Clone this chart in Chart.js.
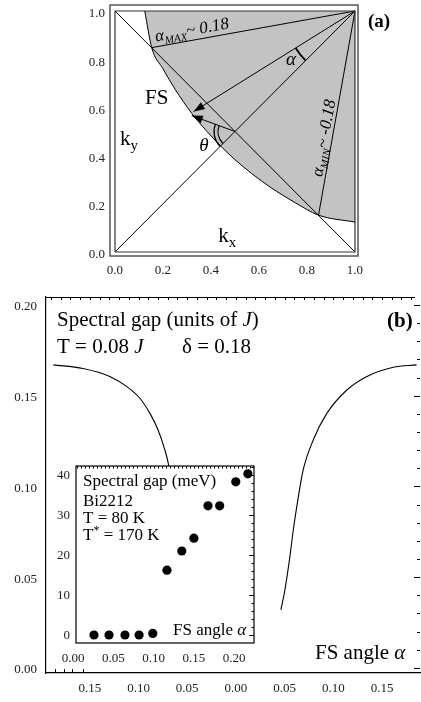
<!DOCTYPE html>
<html>
<head>
<meta charset="utf-8">
<script src="https://cdn.jsdelivr.net/npm/chart.js@4.4.0/dist/chart.umd.min.js"></script>
<style>
body { margin: 0; background: #fff; }
#wrap { position: relative; width: 421px; height: 702px; overflow: hidden; }
canvas { position: absolute; }
</style>
</head>
<body>
<div id="wrap">
  <canvas id="chartA" width="421" height="280" style="left:0;top:0"></canvas>
  <canvas id="chartB" width="421" height="422" style="left:0;top:280px"></canvas>
  <canvas id="chartC" width="260" height="215" style="left:0;top:460px"></canvas>
</div>
<script>
const SERIF = '"Liberation Serif", "DejaVu Serif", serif';

// ---- (a) quadrant of the zone ----
const fsX = [0.124, 0.153, 0.2, 0.25, 0.32, 0.38, 0.44, 0.5, 0.569, 0.65, 0.75, 0.848, 1.0];
const fsY = [1.0, 0.848, 0.76, 0.676, 0.575, 0.504, 0.44, 0.383, 0.326, 0.267, 0.205, 0.153, 0.124];
const box = [{x: 0, y: 0}, {x: 1, y: 0}, {x: 1, y: 1}, {x: 0, y: 1}, {x: 0, y: 0}];
const diag = [{x: 0, y: 0}, {x: 1, y: 1}];
const antiDiag = [{x: 0, y: 1}, {x: 1, y: 0}];
const alphaMaxLine = [{x: 1, y: 1}, {x: 0.153, y: 0.848}];
const alphaMinLine = [{x: 1, y: 1}, {x: 0.848, y: 0.153}];
const arrowLong = [{x: 1, y: 1}, {x: 0.328, y: 0.583}];
const arrowShort = [{x: 0.5, y: 0.5}, {x: 0.32, y: 0.566}];
const aTicks = [0, 0.2, 0.4, 0.6, 0.8, 1.0];

// ---- (b) spectral gap vs FS angle ----
const leftX = [-0.1875, -0.157, -0.129, -0.112, -0.0986, -0.088, -0.0798, -0.0729, -0.0695, -0.066, -0.062];
const leftY = [0.167, 0.165, 0.1605, 0.155, 0.1486, 0.140, 0.131, 0.120, 0.1128, 0.100, 0.085];
const rightX = [0.0462, 0.0503, 0.0554, 0.0589, 0.064, 0.069, 0.0794, 0.093, 0.1136, 0.134, 0.1615, 0.1855];
const rightY = [0.032, 0.043, 0.0613, 0.076, 0.094, 0.109, 0.1256, 0.140, 0.153, 0.1605, 0.1657, 0.167];
const bXTicks = [-0.15, -0.10, -0.05, 0, 0.05, 0.10, 0.15];
const bYTicks = [0, 0.05, 0.10, 0.15, 0.20];
const bBottomMinor = [-0.186, -0.177, -0.168, -0.157];

// ---- inset: Bi2212 data ----
const gapX = [0.026, 0.0447, 0.0645, 0.082, 0.099, 0.1166, 0.135, 0.150, 0.1675, 0.182, 0.202, 0.217];
const gapY = [0, 0, 0, 0, 0.4, 16.2, 21, 24.2, 32.3, 32.3, 38.3, 40.3];
const cXTicks = [0, 0.05, 0.10, 0.15, 0.20];
const cYTicks = [0, 10, 20, 30, 40];

const pts = (xs, ys) => xs.map((v, i) => ({x: v, y: ys[i]}));

function runs(ctx, x, y, parts) {
  let cx = x;
  parts.forEach(([t, f, dy]) => {
    ctx.font = f;
    ctx.fillText(t, cx, y + (dy || 0));
    cx += ctx.measureText(t).width;
  });
}

function lineSet(data, color, width) {
  return {data: data, showLine: true, pointRadius: 0, borderColor: color || '#000', borderWidth: width || 1, fill: false};
}

// keep the plot box where it is, labels can hang over
const noPadX = s => { s.paddingLeft = 0; s.paddingRight = 0; };
const noPadY = s => { s.paddingTop = 0; s.paddingBottom = 0; };

const tickFont = {family: SERIF, size: 13};

// ----------------- panel (a) -----------------
const decorA = {
  id: 'decorA',
  afterDatasetsDraw(chart) {
    const {ctx, chartArea: a, scales: {x, y}} = chart;
    const P = (px, py) => [x.getPixelForValue(px), y.getPixelForValue(py)];
    ctx.save();
    ctx.strokeStyle = '#555';
    ctx.lineWidth = 1.5;
    ctx.strokeRect(a.left, a.top, a.right - a.left, a.bottom - a.top);

    // arrow heads
    ctx.fillStyle = '#000';
    [arrowLong, arrowShort].forEach(seg => {
      const [x0, y0] = P(seg[0].x, seg[0].y);
      const [x1, y1] = P(seg[1].x, seg[1].y);
      const ang = Math.atan2(y1 - y0, x1 - x0);
      const c = Math.cos(ang), s = Math.sin(ang);
      ctx.beginPath();
      ctx.moveTo(x1, y1);
      ctx.lineTo(x1 - 11 * c + 4 * s, y1 - 11 * s - 4 * c);
      ctx.lineTo(x1 - 11 * c - 4 * s, y1 - 11 * s + 4 * c);
      ctx.closePath();
      ctx.fill();
    });

    // angle arcs
    ctx.strokeStyle = '#000';
    const arcBetween = (c, p1, p2, radii, lw) => {
      const [cx, cy] = P(c.x, c.y);
      const [ax, ay] = P(p1.x, p1.y);
      const [bx, by] = P(p2.x, p2.y);
      let t0 = Math.atan2(ay - cy, ax - cx);
      let t1 = Math.atan2(by - cy, bx - cx);
      if (t1 < t0) t1 += Math.PI * 2;
      ctx.lineWidth = lw;
      radii.forEach(r => { ctx.beginPath(); ctx.arc(cx, cy, r, t0, t1); ctx.stroke(); });
    };
    arcBetween({x: 1, y: 1}, {x: 0, y: 0}, arrowLong[1], [70], 1.8);
    arcBetween({x: 0.5, y: 0.5}, {x: 0, y: 0}, arrowShort[1], [17, 21], 1.3);

    // labels
    ctx.fillStyle = '#000';
    ctx.textBaseline = 'alphabetic';
    let [tx, ty] = P(0.125, 0.615);
    runs(ctx, tx, ty, [['FS', '21px ' + SERIF]]);
    [tx, ty] = P(0.021, 0.444);
    runs(ctx, tx, ty, [['k', '21px ' + SERIF], ['y', '15px ' + SERIF, 5]]);
    [tx, ty] = P(0.43, 0.043);
    runs(ctx, tx, ty, [['k', '21px ' + SERIF], ['x', '15px ' + SERIF, 5]]);
    [tx, ty] = P(0.351, 0.42);
    runs(ctx, tx, ty, [['θ', 'italic 19px ' + SERIF]]);
    [tx, ty] = P(0.7125, 0.776);
    runs(ctx, tx, ty, [['α', 'italic 19px ' + SERIF]]);
    [tx, ty] = P(1.054, 0.934);
    runs(ctx, tx, ty, [['(a)', 'bold 19px ' + SERIF]]);

    const rotated = (seg, at, parts) => {
      const [x0, y0] = P(seg[1].x, seg[1].y);
      const [x1, y1] = P(seg[0].x, seg[0].y);
      const [sx, sy] = P(at.x, at.y);
      ctx.save();
      ctx.translate(sx, sy);
      ctx.rotate(Math.atan2(y1 - y0, x1 - x0));
      runs(ctx, 0, 0, parts);
      ctx.restore();
    };
    rotated(alphaMaxLine, {x: 0.171, y: 0.873}, [
      ['α', 'italic 17px ' + SERIF], ['MAX', 'italic 11px ' + SERIF, 4], ['~ 0.18', 'italic 17px ' + SERIF]]);
    rotated(alphaMinLine, {x: 0.862, y: 0.31}, [
      ['α', 'italic 17px ' + SERIF], ['MIN', 'italic 11px ' + SERIF, 4], ['~ -0.18', 'italic 17px ' + SERIF]]);
    ctx.restore();
  }
};

new Chart(document.getElementById('chartA'), {
  type: 'scatter',
  data: {
    datasets: [
      Object.assign(lineSet(pts(fsX, fsY)), {fill: {value: 1}, backgroundColor: '#c3c3c3', cubicInterpolationMode: 'monotone'}),
      lineSet(box, '#333', 1.2),
      lineSet(diag),
      lineSet(antiDiag),
      lineSet(alphaMaxLine),
      lineSet(alphaMinLine),
      lineSet(arrowLong),
      lineSet(arrowShort)
    ]
  },
  options: {
    responsive: false,
    animation: false,
    devicePixelRatio: 1,
    layout: {padding: {left: 0, right: 63, top: 5, bottom: 0}},
    plugins: {legend: {display: false}, tooltip: {enabled: false}, filler: {drawTime: 'beforeDatasetsDraw'}},
    scales: {
      x: {
        type: 'linear', min: -0.0208, max: 1.0125,
        grid: {display: false, drawTicks: false}, border: {display: false},
        ticks: {font: tickFont, color: '#222', padding: 7, maxRotation: 0, callback: v => v.toFixed(1)},
        afterBuildTicks: s => { s.ticks = aTicks.map(v => ({value: v})); },
        afterFit: s => { s.height = 24; noPadX(s); }
      },
      y: {
        type: 'linear', min: -0.0166, max: 1.0249,
        grid: {display: false, drawTicks: false}, border: {display: false},
        ticks: {font: tickFont, color: '#222', padding: 5, labelOffset: 3, callback: v => v.toFixed(1)},
        afterBuildTicks: s => { s.ticks = aTicks.map(v => ({value: v})); },
        afterFit: s => { s.width = 110; noPadY(s); }
      }
    }
  },
  plugins: [decorA]
});

// ----------------- panel (b) -----------------
const decorB = {
  id: 'decorB',
  afterDraw(chart) {
    const {ctx, chartArea: a, scales: {x, y}} = chart;
    ctx.save();
    ctx.strokeStyle = '#000';
    ctx.lineWidth = 1;
    ctx.beginPath();
    ctx.moveTo(a.left, a.top + 0.5);
    ctx.lineTo(a.right - 5, a.top + 0.5);
    for (let v = -0.19; v <= 0.185; v += 0.01) {
      const px = Math.round(x.getPixelForValue(v)) + 0.5;
      ctx.moveTo(px, a.top);
      ctx.lineTo(px, a.top + 3);
    }
    for (let i = 0; i <= 20; i++) {
      const py = Math.round(y.getPixelForValue(i / 100)) + 0.5;
      ctx.moveTo(a.right, py);
      ctx.lineTo(a.right - (i % 5 === 0 ? 6 : 3), py);
    }
    bBottomMinor.forEach(v => {
      const px = Math.round(x.getPixelForValue(v)) + 0.5;
      ctx.moveTo(px, a.bottom);
      ctx.lineTo(px, a.bottom - 4);
    });
    ctx.stroke();

    ctx.fillStyle = '#000';
    runs(ctx, 57, 46, [['Spectral gap (units of ', '21px ' + SERIF], ['J', 'italic 21px ' + SERIF], [')', '21px ' + SERIF]]);
    runs(ctx, 57, 72.7, [['T = 0.08 ', '21px ' + SERIF], ['J', 'italic 21px ' + SERIF]]);
    runs(ctx, 182, 72.7, [['δ = 0.18', '21px ' + SERIF]]);
    runs(ctx, 387, 47, [['(b)', 'bold 21px ' + SERIF]]);
    runs(ctx, 315, 379, [['FS angle ', '21px ' + SERIF], ['α', 'italic 21px ' + SERIF]]);
    ctx.restore();
  }
};

new Chart(document.getElementById('chartB'), {
  type: 'scatter',
  data: {
    datasets: [
      Object.assign(lineSet(pts(leftX, leftY), '#000', 1.1), {cubicInterpolationMode: 'monotone'}),
      Object.assign(lineSet(pts(rightX, rightY), '#000', 1.1), {cubicInterpolationMode: 'monotone'})
    ]
  },
  options: {
    responsive: false,
    animation: false,
    devicePixelRatio: 1,
    layout: {padding: {left: 0, right: 1, top: 17, bottom: 0}},
    plugins: {legend: {display: false}, tooltip: {enabled: false}},
    scales: {
      x: {
        type: 'linear', min: -0.195, max: 0.189,
        grid: {display: false, drawTicks: false}, border: {display: true, color: '#000', width: 1.2},
        ticks: {font: tickFont, color: '#222', padding: 8, maxRotation: 0, callback: v => Math.abs(v).toFixed(2)},
        afterBuildTicks: s => { s.ticks = bXTicks.map(v => ({value: v})); },
        afterFit: s => { s.height = 29; noPadX(s); }
      },
      y: {
        type: 'linear', min: -0.0028, max: 0.2044,
        grid: {display: false, drawTicks: false}, border: {display: true, color: '#000', width: 1.2},
        ticks: {font: tickFont, color: '#222', padding: 9, labelOffset: 2, callback: v => v.toFixed(2)},
        afterBuildTicks: s => { s.ticks = bYTicks.map(v => ({value: v})); },
        afterFit: s => { s.width = 46; noPadY(s); }
      }
    }
  },
  plugins: [decorB]
});

// ----------------- inset -----------------
const decorC = {
  id: 'decorC',
  beforeDraw(chart) {
    const {ctx, chartArea: a} = chart;
    ctx.save();
    ctx.fillStyle = '#fff';
    ctx.fillRect(a.left, a.top, a.right - a.left, a.bottom - a.top);
    ctx.restore();
  },
  afterDraw(chart) {
    const {ctx, chartArea: a, scales: {x, y}} = chart;
    ctx.save();
    ctx.strokeStyle = '#000';
    ctx.lineWidth = 1.2;
    ctx.strokeRect(a.left, a.top, a.right - a.left, a.bottom - a.top);
    ctx.lineWidth = 1;
    ctx.beginPath();
    for (let v = 0.005; v < 0.225; v += 0.005) {
      const px = Math.round(x.getPixelForValue(v)) + 0.5;
      ctx.moveTo(px, a.top);
      ctx.lineTo(px, a.top + 2.5);
    }
    for (let v = 0; v <= 42; v += 2) {
      const py = Math.round(y.getPixelForValue(v)) + 0.5;
      ctx.moveTo(a.right, py);
      ctx.lineTo(a.right - (v % 10 === 0 ? 5 : 2.5), py);
    }
    ctx.stroke();

    ctx.fillStyle = '#000';
    const f = '17px ' + SERIF;
    runs(ctx, 83, 25.7, [['Spectral gap (meV)', f]]);
    runs(ctx, 83, 45.5, [['Bi2212', f]]);
    runs(ctx, 83, 62.5, [['T = 80 K', f]]);
    runs(ctx, 83, 79.5, [['T', f], ['*', '12px ' + SERIF, -6], [' = 170 K', f]]);
    runs(ctx, 173, 175, [['FS angle ', f], ['α', 'italic ' + f]]);
    ctx.restore();
  }
};

new Chart(document.getElementById('chartC'), {
  type: 'scatter',
  data: {
    datasets: [{
      data: pts(gapX, gapY),
      pointRadius: 4.6,
      pointBackgroundColor: '#000',
      pointBorderWidth: 0,
      showLine: false
    }]
  },
  options: {
    responsive: false,
    animation: false,
    devicePixelRatio: 1,
    layout: {padding: {left: 0, right: 6, top: 6, bottom: 0}},
    plugins: {legend: {display: false}, tooltip: {enabled: false}},
    scales: {
      x: {
        type: 'linear', min: 0.0037, max: 0.2246,
        grid: {display: false, drawTicks: false}, border: {display: false},
        ticks: {font: tickFont, color: '#222', padding: 8, maxRotation: 0, callback: v => v.toFixed(2)},
        afterBuildTicks: s => { s.ticks = cXTicks.map(v => ({value: v})); },
        afterFit: s => { s.height = 32; noPadX(s); }
      },
      y: {
        type: 'linear', min: -2, max: 42.25,
        grid: {display: false, drawTicks: false}, border: {display: false},
        ticks: {font: tickFont, color: '#222', padding: 6, labelOffset: 1, callback: v => String(v)},
        afterBuildTicks: s => { s.ticks = cYTicks.map(v => ({value: v})); },
        afterFit: s => { s.width = 76; noPadY(s); }
      }
    }
  },
  plugins: [decorC]
});
</script>
</body>
</html>
